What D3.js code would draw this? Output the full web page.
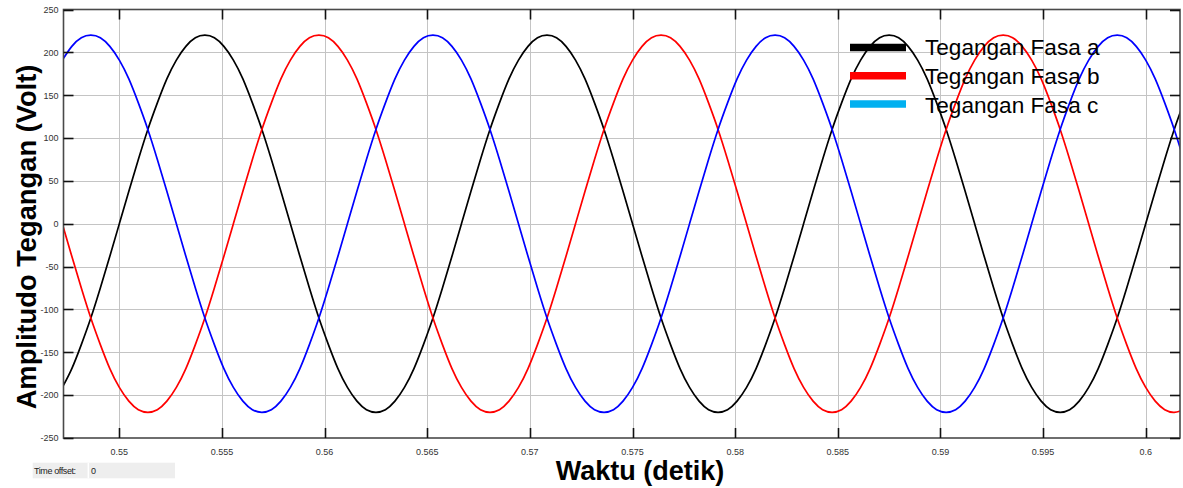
<!DOCTYPE html>
<html>
<head>
<meta charset="utf-8">
<script src="https://cdn.jsdelivr.net/npm/d3@7"></script>
<style>
  body { margin: 0; background: #fff; }
  svg { display: block; font-family: "Liberation Sans", Arial, sans-serif; }
</style>
</head>
<body>
<svg id="chart" width="1183" height="488"></svg>
<script>
// Three-phase voltage samples (V), one sample every 10 electrical degrees at 60 Hz,
// first sample at t = 0.547222 s.
const phaseA = [
  -191,-169,-141,-110,-75,-38,
  0,38,75,110,141,169,191,207,217,220,217,207,191,169,141,110,75,38,0,-38,-75,-110,-141,-169,-191,-207,-217,-220,-217,-207,-191,-169,-141,-110,-75,-38,
  0,38,75,110,141,169,191,207,217,220,217,207,191,169,141,110,75,38,0,-38,-75,-110,-141,-169,-191,-207,-217,-220,-217,-207,-191,-169,-141,-110,-75,-38,
  0,38,75,110,141,169,191,207,217,220,217,207,191,169,141,110,75,38,0,-38,-75,-110,-141,-169,-191,-207,-217,-220,-217,-207,-191,-169,-141,-110,-75,-38,
  0,38,75,110,141
];
const phaseB = [
  0,-38,-75,-110,-141,-169,-191,-207,-217,-220,-217,-207,-191,-169,-141,-110,-75,-38,
  0,38,75,110,141,169,191,207,217,220,217,207,191,169,141,110,75,38,0,-38,-75,-110,-141,-169,-191,-207,-217,-220,-217,-207,-191,-169,-141,-110,-75,-38,
  0,38,75,110,141,169,191,207,217,220,217,207,191,169,141,110,75,38,0,-38,-75,-110,-141,-169,-191,-207,-217,-220,-217,-207,-191,-169,-141,-110,-75,-38,
  0,38,75,110,141,169,191,207,217,220,217,207,191,169,141,110,75,38,0,-38,-75,-110,-141,-169,-191,-207,-217,-220,-217
];
const phaseC = [
  191,207,217,220,217,207,191,169,141,110,75,38,0,-38,-75,-110,-141,-169,-191,-207,-217,-220,-217,-207,-191,-169,-141,-110,-75,-38,
  0,38,75,110,141,169,191,207,217,220,217,207,191,169,141,110,75,38,0,-38,-75,-110,-141,-169,-191,-207,-217,-220,-217,-207,-191,-169,-141,-110,-75,-38,
  0,38,75,110,141,169,191,207,217,220,217,207,191,169,141,110,75,38,0,-38,-75,-110,-141,-169,-191,-207,-217,-220,-217,-207,-191,-169,-141,-110,-75,-38,
  0,38,75,110,141,169,191,207,217,220,217,207,191,169,141,110,75
];
const sampleStart = 0.55 - 6 / 2160;   // seconds
const sampleStep = 1 / 2160;           // seconds (10 degrees at 60 Hz)

const seriesNames = ["Tegangan Fasa a", "Tegangan Fasa b", "Tegangan Fasa c"];
const seriesColors = ["#000000", "#ff0000", "#0000ff"];
const legendColors = ["#000000", "#ff0000", "#00b0f0"];

const xTicks = [0.55, 0.555, 0.56, 0.565, 0.57, 0.575, 0.58, 0.585, 0.59, 0.595, 0.6];
const xTickLabels = ["0.55", "0.555", "0.56", "0.565", "0.57", "0.575", "0.58", "0.585", "0.59", "0.595", "0.6"];
const yTicks = [-250, -200, -150, -100, -50, 0, 50, 100, 150, 200, 250];
const yTickLabels = ["-250", "-200", "-150", "-100", "-50", "0", "50", "100", "150", "200", "250"];

const xDomain = [0.54728, 0.60167];
const yDomain = [-250, 250];

// ---- layout ----
const plot = { left: 63.5, right: 1180, top: 9.5, bottom: 438 };
const svg = d3.select("#chart");

const x = d3.scaleLinear().domain(xDomain).range([plot.left, plot.right]);
const y = d3.scaleLinear().domain(yDomain).range([plot.bottom, plot.top]);

// grid
const grid = svg.append("g").attr("stroke", "#c4c4c4").attr("stroke-width", 1);
grid.selectAll(".gx").data(xTicks).join("line")
  .attr("x1", d => Math.round(x(d)) + 0.5).attr("x2", d => Math.round(x(d)) + 0.5)
  .attr("y1", plot.top).attr("y2", plot.bottom);
grid.selectAll(".gy").data(yTicks.slice(1, -1)).join("line")
  .attr("y1", d => Math.round(y(d)) + 0.5).attr("y2", d => Math.round(y(d)) + 0.5)
  .attr("x1", plot.left).attr("x2", plot.right);

// curves
svg.append("defs").append("clipPath").attr("id", "plotClip")
  .append("rect").attr("x", plot.left).attr("y", plot.top)
  .attr("width", plot.right - plot.left).attr("height", plot.bottom - plot.top);

const line = d3.line()
  .x((d, i) => x(sampleStart + i * sampleStep))
  .y(d => y(d))
  .curve(d3.curveNatural);

const curves = svg.append("g").attr("clip-path", "url(#plotClip)");
[phaseA, phaseB, phaseC].forEach((s, k) => {
  curves.append("path").datum(s)
    .attr("fill", "none")
    .attr("stroke", seriesColors[k])
    .attr("stroke-width", 1.7)
    .attr("d", line);
});

// frame
svg.append("rect")
  .attr("x", plot.left).attr("y", plot.top)
  .attr("width", plot.right - plot.left).attr("height", plot.bottom - plot.top)
  .attr("fill", "none").attr("stroke", "#4a4a4a").attr("stroke-width", 1.6);

// inward tick marks on all four sides
const tickLen = 10;
const ticks = svg.append("g").attr("stroke", "#111").attr("stroke-width", 1.6);
xTicks.forEach(t => {
  const px = Math.round(x(t)) + 0.5;
  ticks.append("line").attr("x1", px).attr("x2", px).attr("y1", plot.bottom).attr("y2", plot.bottom - tickLen);
  ticks.append("line").attr("x1", px).attr("x2", px).attr("y1", plot.top).attr("y2", plot.top + tickLen);
});
yTicks.forEach(v => {
  const py = Math.round(y(v)) + 0.5;
  ticks.append("line").attr("y1", py).attr("y2", py).attr("x1", plot.left).attr("x2", plot.left + tickLen);
  ticks.append("line").attr("y1", py).attr("y2", py).attr("x1", plot.right).attr("x2", plot.right - tickLen);
});

// tick labels
svg.append("g").selectAll("text").data(xTicks).join("text")
  .attr("x", d => x(d)).attr("y", 454.5)
  .attr("text-anchor", "middle")
  .attr("font-size", 9).attr("fill", "#333")
  .text((d, i) => xTickLabels[i]);
svg.append("g").selectAll("text").data(yTicks).join("text")
  .attr("x", 58.5).attr("y", d => y(d) + 3.3)
  .attr("text-anchor", "end")
  .attr("font-size", 9).attr("fill", "#333")
  .text((d, i) => yTickLabels[i]);

// axis titles
svg.append("text")
  .attr("x", 640).attr("y", 479.5)
  .attr("text-anchor", "middle")
  .attr("font-size", 27).attr("font-weight", "bold").attr("fill", "#000")
  .text("Waktu (detik)");
svg.append("text")
  .attr("transform", "translate(36,237) rotate(-90)")
  .attr("text-anchor", "middle")
  .attr("font-size", 27.3).attr("font-weight", "bold").attr("fill", "#000")
  .text("Amplitudo Tegangan (Volt)");

// legend
const legend = svg.append("g");
const legendLineY = [47.5, 75.7, 103.9];
const legendTextY = [54.5, 84, 113];
seriesNames.forEach((name, k) => {
  legend.append("line")
    .attr("x1", 850).attr("x2", 906)
    .attr("y1", legendLineY[k]).attr("y2", legendLineY[k])
    .attr("stroke", legendColors[k]).attr("stroke-width", 7.5);
  legend.append("text")
    .attr("x", 925).attr("y", legendTextY[k])
    .attr("font-size", 22.6).attr("fill", "#000")
    .text(name);
});

// time offset box
const offset = svg.append("g");
offset.append("rect").attr("x", 32.7).attr("y", 462.7).attr("width", 142.3).attr("height", 15.6).attr("fill", "#eeeeee");
offset.append("rect").attr("x", 87.6).attr("y", 462.7).attr("width", 1.4).attr("height", 15.6).attr("fill", "#ffffff");
offset.append("text").attr("x", 34).attr("y", 474).attr("font-size", 9).attr("letter-spacing", -0.4).attr("fill", "#222").text("Time offset:");
offset.append("text").attr("x", 91).attr("y", 474).attr("font-size", 9).attr("fill", "#222").text("0");
</script>
</body>
</html>
